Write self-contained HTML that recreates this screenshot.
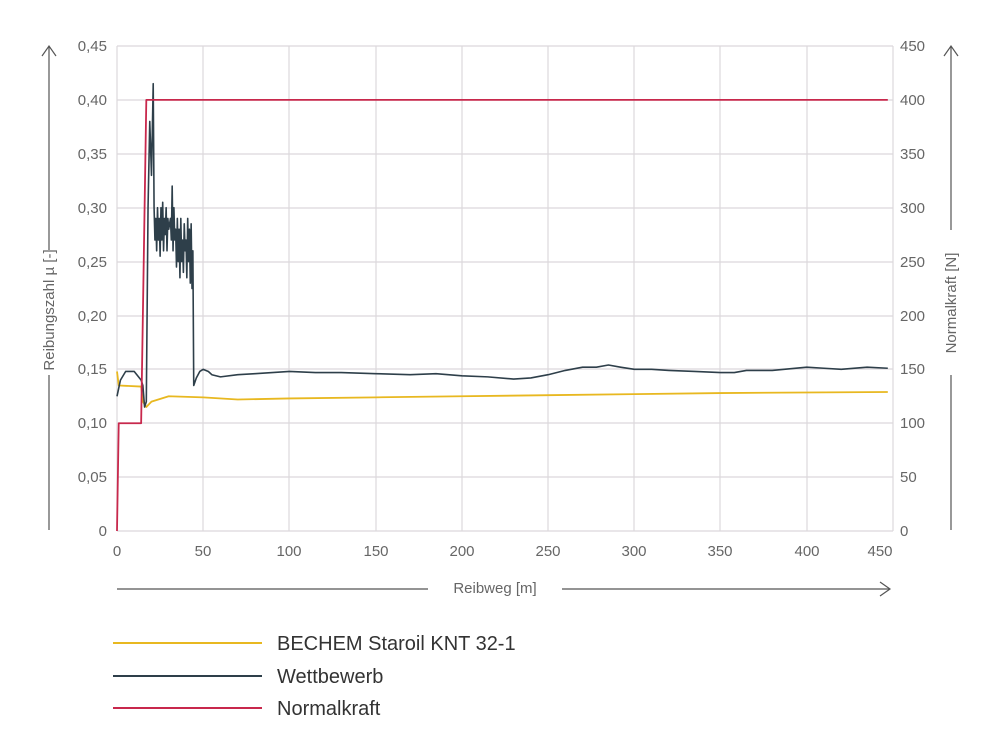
<!DOCTYPE html>
<html><head><meta charset="utf-8"><style>
body{margin:0;background:#fff;}
svg{display:block;font-family:"Liberation Sans",sans-serif;}
</style></head><body>
<svg width="1000" height="751" viewBox="0 0 1000 751">
<g stroke="#dcd8dc" stroke-width="1.2">
<line x1="117" y1="46" x2="893" y2="46"/><line x1="117" y1="100" x2="893" y2="100"/><line x1="117" y1="154" x2="893" y2="154"/><line x1="117" y1="208" x2="893" y2="208"/><line x1="117" y1="262" x2="893" y2="262"/><line x1="117" y1="316" x2="893" y2="316"/><line x1="117" y1="369" x2="893" y2="369"/><line x1="117" y1="423" x2="893" y2="423"/><line x1="117" y1="477" x2="893" y2="477"/><line x1="117" y1="531" x2="893" y2="531"/>
<line x1="117" y1="46" x2="117" y2="531"/><line x1="203" y1="46" x2="203" y2="531"/><line x1="289" y1="46" x2="289" y2="531"/><line x1="376" y1="46" x2="376" y2="531"/><line x1="462" y1="46" x2="462" y2="531"/><line x1="548" y1="46" x2="548" y2="531"/><line x1="634" y1="46" x2="634" y2="531"/><line x1="720" y1="46" x2="720" y2="531"/><line x1="807" y1="46" x2="807" y2="531"/><line x1="893" y1="46" x2="893" y2="531"/>
</g>
<g font-size="15" fill="#666" text-anchor="end">
<text x="107" y="51">0,45</text><text x="107" y="105">0,40</text><text x="107" y="159">0,35</text><text x="107" y="213">0,30</text><text x="107" y="267">0,25</text><text x="107" y="321">0,20</text><text x="107" y="374">0,15</text><text x="107" y="428">0,10</text><text x="107" y="482">0,05</text><text x="107" y="536">0</text>
</g>
<g font-size="15" fill="#666" text-anchor="start">
<text x="900" y="51">450</text><text x="900" y="105">400</text><text x="900" y="159">350</text><text x="900" y="213">300</text><text x="900" y="267">250</text><text x="900" y="321">200</text><text x="900" y="374">150</text><text x="900" y="428">100</text><text x="900" y="482">50</text><text x="900" y="536">0</text>
</g>
<g font-size="15" fill="#666" text-anchor="middle">
<text x="117" y="556">0</text><text x="203" y="556">50</text><text x="289" y="556">100</text><text x="376" y="556">150</text><text x="462" y="556">200</text><text x="548" y="556">250</text><text x="634" y="556">300</text><text x="720" y="556">350</text><text x="807" y="556">400</text><text x="880" y="556">450</text>
</g>
<g stroke="#555" stroke-width="1.2" fill="none">
<line x1="49" y1="530" x2="49" y2="375"/><line x1="49" y1="250" x2="49" y2="46"/><polyline points="42,56 49,46 56,56"/>
<line x1="951" y1="530" x2="951" y2="375"/><line x1="951" y1="230" x2="951" y2="46"/><polyline points="944,56 951,46 958,56"/>
<line x1="117" y1="589" x2="428" y2="589"/><line x1="562" y1="589" x2="890" y2="589"/><polyline points="880,582 890,589 880,596"/>
</g>
<text transform="translate(54,310) rotate(-90)" font-size="15" fill="#666" text-anchor="middle">Reibungszahl µ [-]</text>
<text transform="translate(956,303) rotate(-90)" font-size="15" fill="#666" text-anchor="middle">Normalkraft [N]</text>
<text x="495" y="593" font-size="15" fill="#666" text-anchor="middle">Reibweg [m]</text>
<g transform="translate(117,531) scale(1.7244,-1077.8)" fill="none" stroke-linejoin="round">
<polyline vector-effect="non-scaling-stroke" stroke="#e8b820" stroke-width="1.8" points="0,0.148 1,0.135 14,0.134 15,0.12 17,0.115 20,0.12 30,0.125 50,0.124 70,0.122 100,0.123 150,0.124 200,0.125 250,0.126 300,0.127 350,0.128 447,0.129"/>
<polyline vector-effect="non-scaling-stroke" stroke="#2e3f4a" stroke-width="1.6" points="0,0.125 2,0.14 5,0.148 10,0.148 14,0.14 15,0.135 16,0.115 17,0.12 18,0.3 19,0.38 20,0.33 21,0.415 21.5,0.3 22,0.27 22.5,0.29 23,0.26 23.5,0.3 24,0.27 24.5,0.29 25,0.255 25.5,0.3 26,0.27 26.5,0.305 27,0.26 27.5,0.29 28,0.275 28.5,0.3 29,0.26 29.5,0.29 30,0.28 31,0.29 31.5,0.27 32,0.32 32.5,0.26 33,0.3 33.5,0.27 34,0.28 34.5,0.245 35,0.29 35.5,0.25 36,0.28 36.5,0.235 37,0.29 37.5,0.25 38,0.27 38.5,0.24 39,0.285 39.5,0.26 40,0.27 40.5,0.235 41,0.29 41.5,0.25 42,0.28 42.5,0.23 43,0.285 43.5,0.225 44,0.26 44.5,0.135 46,0.142 48,0.148 50,0.15 53,0.148 55,0.145 60,0.143 70,0.145 80,0.146 90,0.147 100,0.148 115,0.147 130,0.147 150,0.146 170,0.145 185,0.146 200,0.144 215,0.143 230,0.141 240,0.142 250,0.145 260,0.149 270,0.152 278,0.152 285,0.154 292,0.152 300,0.15 310,0.15 320,0.149 335,0.148 350,0.147 358,0.147 365,0.149 380,0.149 400,0.152 410,0.151 420,0.15 435,0.152 447,0.151"/>
<polyline vector-effect="non-scaling-stroke" stroke="#c8284c" stroke-width="1.8" points="0,0 1,0.1 14,0.1 17,0.4 447,0.4"/>
</g>
<line x1="113" y1="643" x2="262" y2="643" stroke="#e8b820" stroke-width="2"/>
<line x1="113" y1="676" x2="262" y2="676" stroke="#2e3f4a" stroke-width="2"/>
<line x1="113" y1="708" x2="262" y2="708" stroke="#c8284c" stroke-width="2"/>
<g font-size="20" fill="#333">
<text x="277" y="650">BECHEM Staroil KNT 32-1</text>
<text x="277" y="683">Wettbewerb</text>
<text x="277" y="715">Normalkraft</text>
</g>
</svg>
</body></html>
